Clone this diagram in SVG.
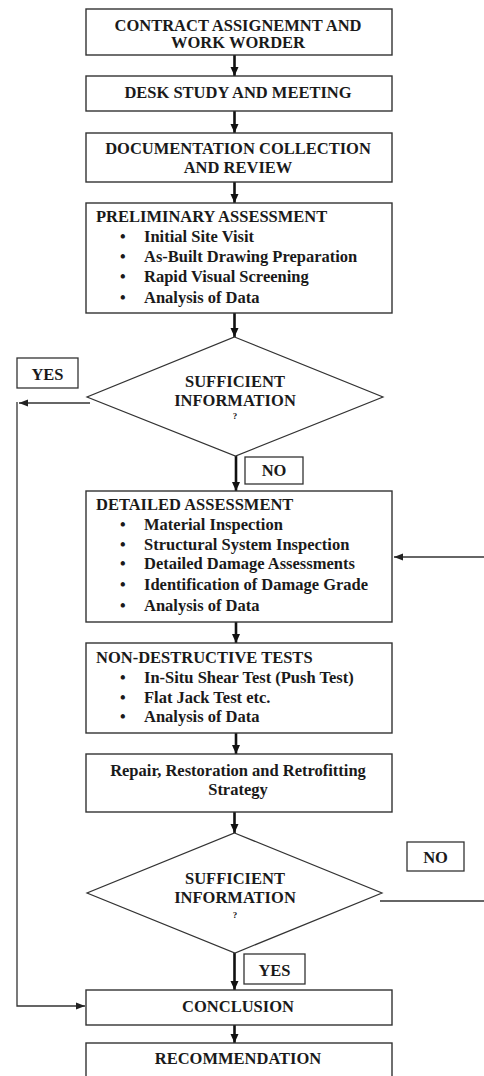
<svg xmlns="http://www.w3.org/2000/svg" width="484" height="1076" viewBox="0 0 484 1076">
<defs>
<style>
.box{fill:#fff;stroke:#333;stroke-width:1.4}
.dia{fill:#fff;stroke:#333;stroke-width:1.2}
.lbl{fill:#fff;stroke:#333;stroke-width:1.3}
text{font-family:"Liberation Serif","Times New Roman",serif;font-weight:bold;font-size:16.5px;fill:#1a1a1a}
.c{text-anchor:middle}
.b{font-size:16px}
.thick{stroke:#111;stroke-width:2.6;fill:none}
.thin{stroke:#333;stroke-width:1.3;fill:none}
</style>
<marker id="ah" markerUnits="userSpaceOnUse" markerWidth="10" markerHeight="10" refX="9" refY="5" orient="auto">
<path d="M0,1 L9,5 L0,9 Z" fill="#111"/>
</marker>
<marker id="ahs" markerUnits="userSpaceOnUse" markerWidth="10" markerHeight="8" refX="9" refY="4" orient="auto">
<path d="M0,0.5 L9,4 L0,7.5 Z" fill="#222"/>
</marker>
</defs>
<rect width="484" height="1076" fill="#fff"/>

<g id="connectors">
<line class="thick" x1="234.5" y1="55" x2="234.5" y2="76" marker-end="url(#ah)"/>
<line class="thick" x1="234.5" y1="111" x2="234.5" y2="133" marker-end="url(#ah)"/>
<line class="thick" x1="234.5" y1="182" x2="234.5" y2="203" marker-end="url(#ah)"/>
<line class="thick" x1="234.5" y1="313" x2="234.5" y2="337" marker-end="url(#ah)"/>
<line class="thick" x1="236" y1="456" x2="236" y2="491" marker-end="url(#ah)"/>
<line class="thick" x1="236" y1="622" x2="236" y2="643" marker-end="url(#ah)"/>
<line class="thick" x1="236" y1="733" x2="236" y2="754" marker-end="url(#ah)"/>
<line class="thick" x1="234.5" y1="812" x2="234.5" y2="833" marker-end="url(#ah)"/>
<line class="thick" x1="234.5" y1="953" x2="234.5" y2="990" marker-end="url(#ah)"/>
<line class="thick" x1="234.5" y1="1025" x2="234.5" y2="1043" marker-end="url(#ah)"/>
<line class="thin" x1="90" y1="403" x2="19" y2="403" marker-end="url(#ahs)"/>
<polyline class="thin" points="17,402 17,1006 85,1006" marker-end="url(#ahs)"/>
<line class="thin" x1="484" y1="557" x2="394" y2="557" marker-end="url(#ahs)"/>
<line class="thin" x1="380" y1="901" x2="484" y2="901"/>
</g>

<g id="n1"><rect class="box" x="86" y="9" width="306" height="46"/>
<text class="c" x="238" y="31">CONTRACT ASSIGNEMNT AND</text>
<text class="c" x="238" y="48">WORK WORDER</text></g>

<g id="n2"><rect class="box" x="86" y="76" width="306" height="35"/>
<text class="c" x="238" y="98">DESK STUDY AND MEETING</text></g>

<g id="n3"><rect class="box" x="86" y="133" width="306" height="49"/>
<text class="c" x="238" y="154">DOCUMENTATION COLLECTION</text>
<text class="c" x="238" y="173">AND REVIEW</text></g>

<g id="n4"><rect class="box" x="86" y="203" width="306" height="110"/>
<text x="96" y="222">PRELIMINARY ASSESSMENT</text>
<text class="b" x="120" y="242">•</text><text x="144" y="242">Initial Site Visit</text>
<text class="b" x="120" y="262">•</text><text x="144" y="262">As-Built Drawing Preparation</text>
<text class="b" x="120" y="282">•</text><text x="144" y="282">Rapid Visual Screening</text>
<text class="b" x="120" y="303">•</text><text x="144" y="303">Analysis of Data</text></g>

<g id="d1"><polygon class="dia" points="234.5,337 383,397 235.5,456 87,397"/>
<text class="c" x="235" y="387">SUFFICIENT</text>
<text class="c" x="235" y="406">INFORMATION</text>
<text class="c" x="235" y="419" style="font-size:9px">?</text></g>

<g id="yes1"><rect class="lbl" x="17" y="358" width="61" height="30"/>
<text class="c" x="47.5" y="380">YES</text></g>

<g id="no1"><rect class="lbl" x="245" y="457" width="58" height="27"/>
<text class="c" x="274" y="476">NO</text></g>

<g id="n5"><rect class="box" x="86" y="491" width="306" height="131"/>
<text x="96" y="510">DETAILED ASSESSMENT</text>
<text class="b" x="120" y="530">•</text><text x="144" y="530">Material Inspection</text>
<text class="b" x="120" y="550">•</text><text x="144" y="550">Structural System Inspection</text>
<text class="b" x="120" y="569">•</text><text x="144" y="569">Detailed Damage Assessments</text>
<text class="b" x="120" y="590">•</text><text x="144" y="590">Identification of Damage Grade</text>
<text class="b" x="120" y="611">•</text><text x="144" y="611">Analysis of Data</text></g>

<g id="n6"><rect class="box" x="86" y="643" width="306" height="90"/>
<text x="96" y="663">NON-DESTRUCTIVE TESTS</text>
<text class="b" x="120" y="683">•</text><text x="144" y="683">In-Situ Shear Test (Push Test)</text>
<text class="b" x="120" y="703">•</text><text x="144" y="703">Flat Jack Test etc.</text>
<text class="b" x="120" y="722">•</text><text x="144" y="722">Analysis of Data</text></g>

<g id="n7"><rect class="box" x="86" y="754" width="306" height="58"/>
<text class="c" x="238" y="776">Repair, Restoration and Retrofitting</text>
<text class="c" x="238" y="795">Strategy</text></g>

<g id="d2"><polygon class="dia" points="234.5,833 382,893 235,953 87,893"/>
<text class="c" x="235" y="884">SUFFICIENT</text>
<text class="c" x="235" y="903">INFORMATION</text>
<text class="c" x="235" y="918" style="font-size:9px">?</text></g>

<g id="no2"><rect class="lbl" x="407" y="842" width="57" height="29"/>
<text class="c" x="435.5" y="863">NO</text></g>

<g id="yes2"><rect class="lbl" x="244" y="954" width="61" height="30"/>
<text class="c" x="274.5" y="976">YES</text></g>

<g id="n8"><rect class="box" x="86" y="990" width="306" height="35"/>
<text class="c" x="238" y="1012">CONCLUSION</text></g>

<g id="n9"><rect class="box" x="86" y="1043" width="306" height="45"/>
<text class="c" x="238" y="1064">RECOMMENDATION</text></g>
</svg>
